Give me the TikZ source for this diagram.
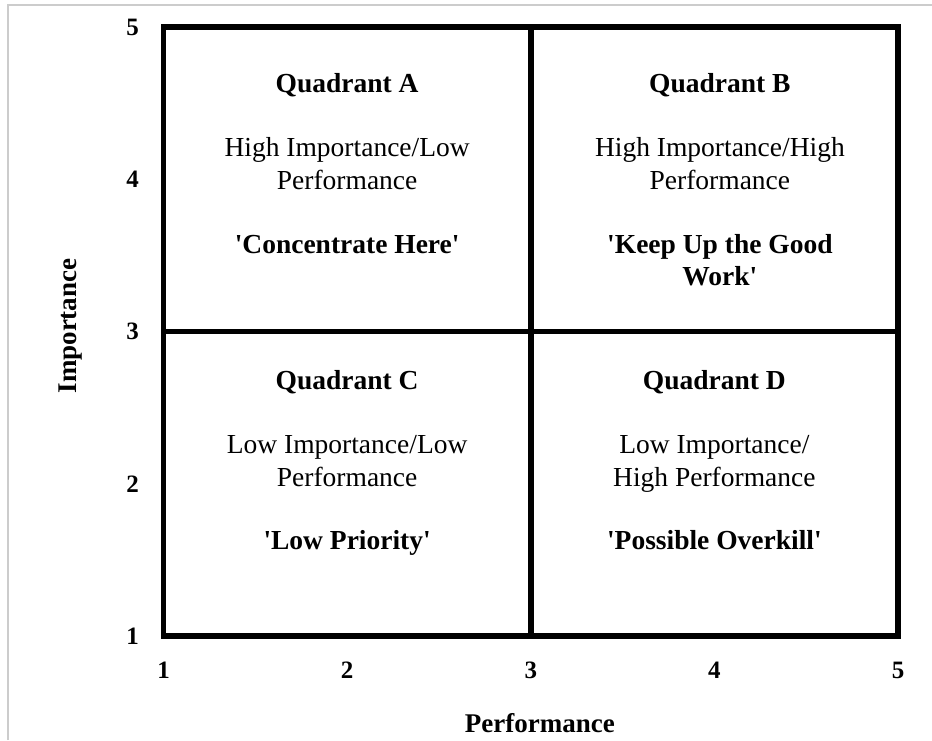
\documentclass[tikz,border=0pt]{standalone}
\usepackage{fontspec}
\setmainfont{Liberation Serif}
\tikzset{
  quadtitle/.style={font=\fontsize{27.5}{32.6}\selectfont\bfseries, anchor=base, inner sep=0pt},
  quadtext/.style={font=\fontsize{27.5}{32.6}\selectfont, align=center, anchor=base, inner sep=0pt},
  quadnote/.style={quadtitle, align=center},
  ticklabel/.style={font=\fontsize{25}{30}\selectfont\bfseries, inner sep=0pt},
  axislabel/.style={font=\fontsize{27}{32}\selectfont\bfseries, anchor=base, inner sep=0pt},
}
\newcommand{\sq}{\textquotesingle}
\begin{document}
\begin{tikzpicture}[x=183.625pt, y=152.25pt]
  \useasboundingbox (0.1096,0.3169) rectangle (5.1851,5.1773);
  \draw[black!20, line width=1.5pt] (0.1532,0.3169) -- (0.1532,5.1445) -- (5.1851,5.1445); % frame

  \draw[line width=5.5pt] (1,1) rectangle (5,5); % outer box
  \draw[line width=5.5pt] (3,1)--(3,5); % split at performance 3
  \draw[line width=5.5pt] (1,3)--(5,3); % split at importance 3

  % y axis
  \node[ticklabel, anchor=east] (y1) at (0.867,1) {1};
  \node[ticklabel, anchor=east] (y2) at (0.867,2) {2};
  \node[ticklabel, anchor=east] (y3) at (0.867,3) {3};
  \node[ticklabel, anchor=east] (y4) at (0.867,4) {4};
  \node[ticklabel, anchor=east] (y5) at (0.867,5) {5};
  \node[axislabel, rotate=90] (ylab) at (0.5235,3.036) {Importance};

  % x axis
  \node[ticklabel, anchor=base] (x1) at (1,0.721) {1};
  \node[ticklabel, anchor=base] (x2) at (2,0.721) {2};
  \node[ticklabel, anchor=base] (x3) at (3,0.721) {3};
  \node[ticklabel, anchor=base] (x4) at (4,0.721) {4};
  \node[ticklabel, anchor=base] (x5) at (5,0.721) {5};
  \node[axislabel] (xlab) at (3.05,0.365) {Performance};

  % quadrants (base = last line)
  \node[quadtitle] (qA) at (2,4.5665) {Quadrant A};
  \node[quadtext] (qAtext) at (2,3.934) {High Importance/Low\\Performance};
  \node[quadnote] (qAnote) at (2,3.511) {\sq Concentrate Here\sq};

  \node[quadtitle] (qB) at (4.03,4.5665) {Quadrant B};
  \node[quadtext] (qBtext) at (4.03,3.934) {High Importance/High\\Performance};
  \node[quadnote] (qBnote) at (4.03,3.299) {\sq Keep Up the Good\\Work\sq};

  \node[quadtitle] (qC) at (2,2.616) {Quadrant C};
  \node[quadtext] (qCtext) at (2,1.983) {Low Importance/Low\\Performance};
  \node[quadnote] (qCnote) at (2,1.565) {\sq Low Priority\sq};

  \node[quadtitle] (qD) at (4,2.616) {Quadrant D};
  \node[quadtext] (qDtext) at (4,1.983) {Low Importance/\\High Performance};
  \node[quadnote] (qDnote) at (4,1.565) {\sq Possible Overkill\sq};
\end{tikzpicture}
\end{document}
